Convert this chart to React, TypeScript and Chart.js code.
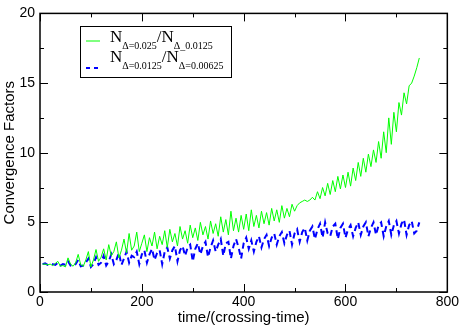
import React, { useEffect, useRef } from "react";
import { Chart, registerables } from "chart.js";

Chart.register(...registerables);

// time/(crossing-time)
const timeValues = [
  5, 10, 15, 20, 25, 30, 35, 40, 45, 50,
  55, 60, 65, 70, 75, 80, 85, 90, 95, 100,
  105, 110, 115, 120, 125, 130, 135, 140, 145, 150,
  155, 160, 165, 170, 175, 180, 185, 190, 195, 200,
  205, 210, 215, 220, 225, 230, 235, 240, 245, 250,
  255, 260, 265, 270, 275, 280, 285, 290, 295, 300,
  305, 310, 315, 320, 325, 330, 335, 340, 345, 350,
  355, 360, 365, 370, 375, 380, 385, 390, 395, 400,
  405, 410, 415, 420, 425, 430, 435, 440, 445, 450,
  455, 460, 465, 470, 475, 480, 485, 490, 495, 500,
  505, 510, 515, 520, 525, 530, 535, 540, 545, 550,
  555, 560, 565, 570, 575, 580, 585, 590, 595, 600,
  605, 610, 615, 620, 625, 630, 635, 640, 645, 650,
  655, 660, 665, 670, 675, 680, 685, 690, 695, 700,
  705, 710, 715, 720, 725, 730, 735, 740, 745,
];

// N(0.025)/N(0.0125)  (green)
const ratioCoarse = [
  2.0, 2.0, 1.95, 2.0, 1.9, 2.05, 2.2, 1.85, 1.9, 1.8,
  2.45, 2.0, 1.85, 2.1, 2.7, 1.95, 1.85, 2.3, 2.9, 1.8,
  2.3, 3.05, 2.2, 2.5, 3.1, 2.3, 3.4, 2.6, 2.9, 3.6,
  2.45, 3.0, 3.8, 2.8, 4.2, 3.0, 3.3, 4.3, 2.9, 3.5,
  4.1, 2.9, 3.9, 3.3, 4.3, 3.1, 4.0, 3.4, 4.4, 3.2,
  4.5, 3.6, 4.2, 3.3, 4.7, 3.8, 4.4, 3.5, 4.8, 3.9,
  4.6, 3.7, 5.0, 4.1, 4.7, 3.8, 5.1, 4.2, 4.9, 4.0,
  5.4, 4.3, 5.2, 4.1, 5.8, 4.4, 5.3, 4.3, 5.5, 4.5,
  5.6, 4.4, 5.9, 4.7, 5.5, 4.6, 5.8, 4.9, 5.7, 4.8,
  6.0, 5.1, 5.9, 5.0, 6.2, 5.3, 6.0, 5.4, 6.3, 5.8,
  6.2, 6.4, 6.5, 6.6, 6.5, 6.6, 6.8, 6.6, 7.2, 6.7,
  7.5, 6.9, 7.8, 7.0, 8.0, 7.2, 8.3, 7.4, 8.4, 7.5,
  8.6, 7.6, 8.9, 8.0, 9.3, 8.3, 9.6, 8.6, 9.9, 9.0,
  10.2, 9.3, 10.8, 9.6, 11.5, 10.0, 12.5, 10.6, 12.9, 11.5,
  13.6, 12.7, 14.3, 13.5, 14.8, 15.0, 15.5, 16.1, 16.8,
];

// N(0.0125)/N(0.00625)  (blue, dashed)
const ratioFine = [
  2.0, 2.05, 1.95, 2.0, 2.0, 1.95, 2.1, 1.9, 2.0, 1.95,
  2.2, 1.9, 1.85, 2.0, 2.3, 1.85, 1.9, 2.1, 2.4, 1.8,
  2.0, 2.5, 1.95, 2.1, 2.6, 1.9, 2.2, 2.7, 2.0, 2.3,
  2.8, 1.95, 2.4, 2.9, 2.1, 2.6, 2.5, 2.9, 2.0, 2.7,
  3.0, 2.1, 2.7, 3.1, 2.3, 2.8, 3.0, 2.0, 2.9, 3.2,
  2.4, 3.0, 3.3, 2.2, 3.0, 3.3, 2.6, 3.2, 3.4, 2.2,
  3.1, 3.5, 2.7, 3.3, 3.6, 2.5, 3.2, 3.7, 2.9, 3.4,
  3.8, 2.6, 3.5, 3.6, 2.4, 3.3, 3.8, 3.2, 2.4, 3.5,
  3.9, 3.1, 3.7, 2.9, 3.6, 4.0, 3.2, 3.8, 4.1, 3.3,
  3.9, 4.2, 3.4, 4.0, 4.3, 3.5, 4.1, 4.4, 3.4, 4.2,
  4.5, 3.6, 4.3, 4.6, 3.7, 4.4, 4.7, 3.8, 4.5, 4.9,
  3.9, 5.0, 4.2, 4.0, 4.7, 4.9, 3.8, 4.6, 4.9, 3.9,
  4.5, 4.8, 4.0, 4.6, 5.0, 4.1, 4.7, 5.0, 4.0, 4.6,
  5.0, 4.1, 4.8, 5.0, 4.0, 4.7, 5.1, 4.1, 4.8, 5.1,
  4.2, 4.9, 5.2, 4.1, 4.8, 5.1, 4.2, 4.4, 5.0,
];

const xMajorTicks = [0, 200, 400, 600, 800];
const xMinorTicks = [100, 300, 500, 700];
const yMajorTicks = [0, 5, 10, 15, 20];
const yMinorTicks = [2.5, 7.5, 12.5, 17.5];

const xTitle = "time/(crossing-time)";
const yTitle = "Convergence Factors";

const legendRows = [
  { color: "#00ff00", dash: [] as number[], parts: [["N", "Δ=0.025"], ["/N", "Δ_0.0125"]] },
  { color: "#0000ff", dash: [4, 4], parts: [["N", "Δ=0.0125"], ["/N", "Δ=0.00625"]] },
];

const SANS = "'Liberation Sans', Arial, Helvetica, sans-serif";
const SERIF = "'Liberation Serif', 'Times New Roman', serif";

const framePlugin = {
  id: "frameTicks",
  afterDatasetsDraw(chart: any) {
    const { ctx, chartArea: a, scales } = chart;
    const xs = scales.x;
    const ys = scales.y;
    ctx.save();
    ctx.strokeStyle = "#000";
    ctx.lineWidth = 1;
    const tick = (vals: number[], len: number) => {
      vals.forEach((v) => {
        const px = Math.round(xs.getPixelForValue(v)) + 0.5;
        ctx.beginPath();
        ctx.moveTo(px, a.bottom);
        ctx.lineTo(px, a.bottom - len);
        ctx.moveTo(px, a.top);
        ctx.lineTo(px, a.top + len);
        ctx.stroke();
      });
    };
    const ytick = (vals: number[], len: number) => {
      vals.forEach((v) => {
        const py = Math.round(ys.getPixelForValue(v)) + 0.5;
        ctx.beginPath();
        ctx.moveTo(a.left, py);
        ctx.lineTo(a.left + len, py);
        ctx.moveTo(a.right, py);
        ctx.lineTo(a.right - len, py);
        ctx.stroke();
      });
    };
    tick(xMajorTicks, 8);
    tick(xMinorTicks, 4);
    ytick(yMajorTicks, 8);
    ytick(yMinorTicks, 4);
    ctx.lineWidth = 1.5;
    ctx.strokeRect(a.left, a.top, a.right - a.left, a.bottom - a.top);
    ctx.restore();
  },
  afterDraw(chart: any) {
    const { ctx } = chart;
    ctx.save();
    // legend box
    const bx = 80.5, by = 26.5, bw = 151, bh = 51;
    ctx.fillStyle = "#fff";
    ctx.fillRect(bx, by, bw, bh);
    ctx.strokeStyle = "#000";
    ctx.lineWidth = 1;
    ctx.strokeRect(bx, by, bw, bh);
    const baselines = [42, 62];
    legendRows.forEach((row, i) => {
      const base = baselines[i];
      ctx.strokeStyle = row.color;
      ctx.lineWidth = i === 0 ? 1 : 2;
      ctx.setLineDash(row.dash);
      ctx.beginPath();
      ctx.moveTo(86, base - 1 + i * 7);
      ctx.lineTo(100, base - 1 + i * 7);
      ctx.stroke();
      ctx.setLineDash([]);
      let x = 110;
      ctx.fillStyle = "#000";
      ctx.textBaseline = "alphabetic";
      ctx.textAlign = "left";
      row.parts.forEach(([main, sub]) => {
        ctx.font = `17px ${SERIF}`;
        ctx.fillText(main, x, base);
        x += ctx.measureText(main).width;
        ctx.font = `10px ${SERIF}`;
        ctx.fillText(sub, x, base + 7);
        x += ctx.measureText(sub).width;
      });
    });
    ctx.restore();
  },
};

export default function App() {
  const ref = useRef<HTMLCanvasElement | null>(null);

  useEffect(() => {
    if (!ref.current) return;
    const green = timeValues.map((t, i) => ({ x: t, y: ratioCoarse[i] }));
    const blue = timeValues.map((t, i) => ({ x: t, y: ratioFine[i] }));
    const chart = new Chart(ref.current, {
      type: "line",
      data: {
        datasets: [
          {
            label: "coarse",
            data: green,
            borderColor: "#00ff00",
            borderWidth: 1,
            pointRadius: 0,
            tension: 0,
            fill: false,
          },
          {
            label: "fine",
            data: blue,
            borderColor: "#0000ff",
            borderWidth: 2,
            borderDash: [6, 4],
            pointRadius: 0,
            tension: 0,
            fill: false,
          },
        ],
      },
      options: {
        responsive: false,
        animation: false,
        devicePixelRatio: 1,
        layout: { padding: { top: 6, right: 13, left: 0, bottom: 0 } },
        plugins: { legend: { display: false }, tooltip: { enabled: false } },
        scales: {
          x: {
            type: "linear",
            min: 0,
            max: 800,
            afterFit: (s: any) => {
              s.height = 35;
            },
            afterBuildTicks: (s: any) => {
              s.ticks = xMajorTicks.map((v) => ({ value: v }));
            },
            grid: { display: false, drawTicks: false },
            border: { display: false },
            ticks: {
              padding: 2,
              maxRotation: 0,
              autoSkip: false,
              color: "#000",
              font: { family: SANS, size: 14 },
            },
            title: {
              display: true,
              text: xTitle,
              color: "#000",
              padding: 0,
              font: { family: SANS, size: 15 },
            },
          },
          y: {
            type: "linear",
            min: 0,
            max: 20,
            afterFit: (s: any) => {
              s.width = 40;
            },
            afterBuildTicks: (s: any) => {
              s.ticks = yMajorTicks.map((v) => ({ value: v }));
            },
            grid: { display: false, drawTicks: false },
            border: { display: false },
            ticks: {
              padding: 5,
              autoSkip: false,
              color: "#000",
              font: { family: SANS, size: 14 },
            },
            title: {
              display: true,
              text: yTitle,
              color: "#000",
              padding: { top: 1, bottom: 0 },
              font: { family: SANS, size: 15 },
            },
          },
        },
      },
      plugins: [framePlugin],
    } as any);
    return () => chart.destroy();
  }, []);

  return (
    <div style={{ position: "fixed", left: 0, top: 0, width: 461, height: 327, background: "#fff" }}>
      <canvas ref={ref} width={461} height={327} style={{ display: "block", width: 461, height: 327 }} />
    </div>
  );
}
